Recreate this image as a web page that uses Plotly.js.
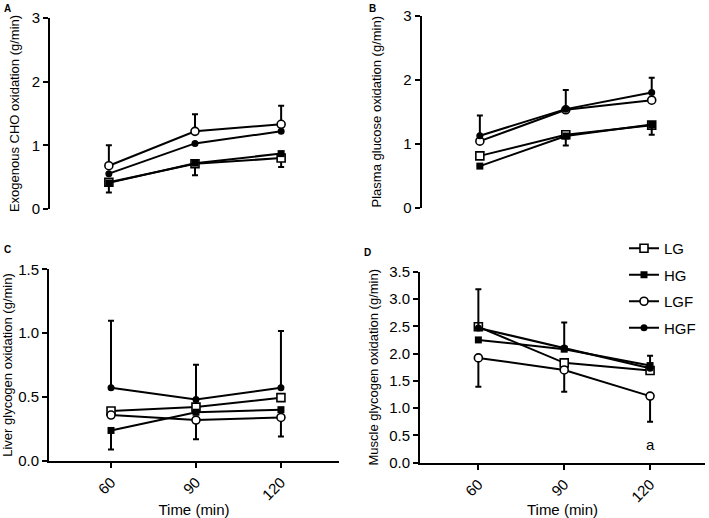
<!DOCTYPE html>
<html>
<head>
<meta charset="utf-8">
<script src="https://cdn.plot.ly/plotly-3.0.1.min.js"></script>
<style>
html,body{margin:0;padding:0;background:#fff;}
#chart{width:709px;height:518px;}
</style>
</head>
<body>
<div id="chart"></div>
<script>
// ---------- data ----------
var times = [60, 90, 120];
var groups = ['LG', 'HG', 'LGF', 'HGF'];

// Panel A: Exogenous CHO oxidation (g/min)
var A_LG  = [0.42, 0.71, 0.80];
var A_HG  = [0.41, 0.72, 0.87];
var A_LGF = [0.68, 1.22, 1.33];
var A_HGF = [0.555, 1.03, 1.22];
var A_LG_down = [0.16, 0.18, 0.14];
var A_LGF_up  = [0.32, 0.27, 0.29];

// Panel B: Plasma glucose oxidation (g/min)
var B_LG  = [0.81, 1.14, 1.29];
var B_HG  = [0.65, 1.12, 1.30];
var B_LGF = [1.04, 1.53, 1.68];
var B_HGF = [1.125, 1.54, 1.80];
var B_HG_down = [null, 0.15, 0.16];
var B_HGF_up  = [0.315, 0.30, 0.23];

// Panel C: Liver glycogen oxidation (g/min)
var C_LG  = [0.39, 0.42, 0.494];
var C_HG  = [0.237, 0.38, 0.40];
var C_LGF = [0.358, 0.318, 0.339];
var C_HGF = [0.571, 0.479, 0.571];
var C_HG_down  = [0.15, null, null];
var C_LGF_down = [null, 0.15, 0.15];
var C_HGF_up   = [0.525, 0.273, 0.446];

// Panel D: Muscle glycogen oxidation (g/min)
var D_LG  = [2.49, 1.83, 1.69];
var D_HG  = [2.25, 2.08, 1.78];
var D_LGF = [1.92, 1.70, 1.22];
var D_HGF = [2.47, 2.10, 1.73];
var D_LGF_down = [0.53, 0.40, 0.47];
var D_HGF_up   = [0.71, 0.47, 0.23];

var tickVals = [60, 90, 120];
var tickText = ['60', '90', '120'];

// ---------- styling ----------
var FONT = 'Arial, "Liberation Sans", Helvetica, sans-serif';
var markerStyles = {
  LG:  {symbol: 'square', size: 8, color: '#ffffff', line: {color: '#000', width: 1.6}},
  HG:  {symbol: 'square', size: 7, color: '#000000', line: {color: '#000', width: 0}},
  LGF: {symbol: 'circle', size: 8, color: '#ffffff', line: {color: '#000', width: 1.6}},
  HGF: {symbol: 'circle', size: 7, color: '#000000', line: {color: '#000', width: 0}}
};

function err(up, down) {
  if (!up && !down) return {visible: false};
  var u = up || times.map(function(){return 0;});
  var d = down || times.map(function(){return 0;});
  u = u.map(function(v){return v === null ? 0 : v;});
  d = d.map(function(v){return v === null ? 0 : v;});
  return {type: 'data', symmetric: false, array: u, arrayminus: d,
          color: '#000', thickness: 2, width: 3, visible: true};
}

function tr(name, y, xa, ya, up, down, showLegend) {
  return {
    x: times, y: y, type: 'scatter', mode: 'lines+markers', name: name,
    xaxis: xa, yaxis: ya, legendgroup: name, showlegend: !!showLegend,
    line: {color: '#000', width: 2},
    marker: markerStyles[name],
    error_y: err(up, down),
    cliponaxis: false
  };
}

var data = [
  tr('LG',  A_LG,  'x',  'y',  null, A_LG_down, true),
  tr('HG',  A_HG,  'x',  'y',  null, null, true),
  tr('LGF', A_LGF, 'x',  'y',  A_LGF_up, null, true),
  tr('HGF', A_HGF, 'x',  'y',  null, null, true),

  tr('LG',  B_LG,  'x2', 'y2', null, null),
  tr('HG',  B_HG,  'x2', 'y2', null, B_HG_down),
  tr('LGF', B_LGF, 'x2', 'y2', null, null),
  tr('HGF', B_HGF, 'x2', 'y2', B_HGF_up, null),

  tr('LG',  C_LG,  'x3', 'y3', null, null),
  tr('HG',  C_HG,  'x3', 'y3', null, C_HG_down),
  tr('LGF', C_LGF, 'x3', 'y3', null, C_LGF_down),
  tr('HGF', C_HGF, 'x3', 'y3', C_HGF_up, null),

  tr('LG',  D_LG,  'x4', 'y4', null, null),
  tr('HG',  D_HG,  'x4', 'y4', null, null),
  tr('LGF', D_LGF, 'x4', 'y4', null, D_LGF_down),
  tr('HGF', D_HGF, 'x4', 'y4', D_HGF_up, null)
];

var W = 709, H = 518;
function px(a, b) { return [a / W, b / W]; }
function py(bottom, top) { return [(H - bottom) / H, (H - top) / H]; }

function yax(domain, range, dtick, fmt, title, standoff, anchor) {
  return {
    domain: domain, range: range, dtick: dtick, tick0: 0, tickformat: fmt,
    showline: true, linecolor: '#000', linewidth: 2,
    ticks: 'outside', ticklen: 5, tickwidth: 2, tickcolor: '#000',
    showgrid: false, zeroline: false, anchor: anchor,
    tickfont: {family: FONT, size: 15, color: '#000'},
    title: {text: title, font: {family: FONT, size: 13, color: '#000'}, standoff: standoff},
    fixedrange: true
  };
}
function xax(domain, range, visible, anchor) {
  var o = {
    domain: domain, range: range, anchor: anchor,
    tickvals: tickVals, ticktext: tickText, tickangle: -45,
    showline: visible, linecolor: '#000', linewidth: 2,
    ticks: visible ? 'outside' : '', ticklen: 5, tickwidth: 2, tickcolor: '#000',
    showticklabels: visible, showgrid: false, zeroline: false,
    tickfont: {family: FONT, size: 15, color: '#000'},
    fixedrange: true
  };
  if (visible) o.title = {text: 'Time (min)', font: {family: FONT, size: 15, color: '#000'}, standoff: 5};
  return o;
}

var layout = {
  width: W, height: H,
  margin: {l: 0, r: 0, t: 0, b: 0},
  paper_bgcolor: '#fff', plot_bgcolor: 'rgba(0,0,0,0)',
  font: {family: FONT, color: '#000'},
  showlegend: true,
  legend: {
    x: 624 / W, y: (H - 232) / H, xanchor: 'left', yanchor: 'top',
    bgcolor: 'rgba(0,0,0,0)', borderwidth: 0,
    font: {family: FONT, size: 15, color: '#000'},
    tracegroupgap: 4, itemwidth: 30
  },
  xaxis:  xax(px(50, 340),  [39.5, 140.5], false, 'y'),
  yaxis:  yax(py(209, 18),  [0, 3], 1, 'd', 'Exogenous CHO oxidation (g/min)', 9, 'x'),
  xaxis2: xax(px(421.7, 709), [39.7, 140], false, 'y2'),
  yaxis2: yax(py(207.7, 15.7), [0, 3], 1, 'd', 'Plasma glucose oxidation (g/min)', 19, 'x2'),
  xaxis3: xax(px(49, 339),  [38.1, 140.5], true, 'y3'),
  yaxis3: yax(py(460.7, 269.3), [0, 1.5], 0.5, '.1f', 'Liver glycogen oxidation (g/min)', 4, 'x3'),
  xaxis4: xax(px(420, 705), [39.6, 139.2], true, 'y4'),
  yaxis4: yax(py(462.7, 271.7), [0, 3.5], 0.5, '.1f', 'Muscle glycogen oxidation (g/min)', 8, 'x4'),
  annotations: [
    {text: '<b>A</b>', xref: 'paper', yref: 'paper', x: 2 / W, y: 1 - 1 / H, xanchor: 'left', yanchor: 'top', showarrow: false, font: {family: FONT, size: 10, color: '#000'}},
    {text: '<b>B</b>', xref: 'paper', yref: 'paper', x: 367 / W, y: 1 - 1 / H, xanchor: 'left', yanchor: 'top', showarrow: false, font: {family: FONT, size: 10, color: '#000'}},
    {text: '<b>C</b>', xref: 'paper', yref: 'paper', x: 2 / W, y: 1 - 242 / H, xanchor: 'left', yanchor: 'top', showarrow: false, font: {family: FONT, size: 10, color: '#000'}},
    {text: '<b>D</b>', xref: 'paper', yref: 'paper', x: 362 / W, y: 1 - 245 / H, xanchor: 'left', yanchor: 'top', showarrow: false, font: {family: FONT, size: 10, color: '#000'}},
    {text: 'a', xref: 'x4', yref: 'y4', x: 120, y: 0.33, showarrow: false, font: {family: FONT, size: 15, color: '#000'}}
  ]
};

Plotly.newPlot('chart', data, layout, {staticPlot: true, displayModeBar: false});
</script>
</body>
</html>
